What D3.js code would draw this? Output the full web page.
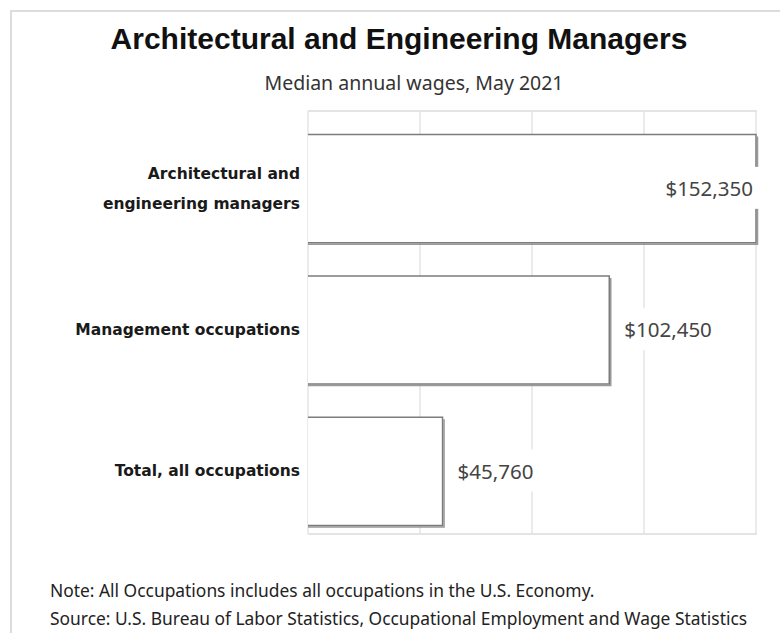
<!DOCTYPE html>
<html>
<head>
<meta charset="utf-8">
<script src="https://cdn.jsdelivr.net/npm/d3@7"></script>
<style>
  body { margin: 0; background: #fff; }
  svg { display: block; }
</style>
</head>
<body>
<svg id="chart"></svg>
<script>
// chart values
var categories = ["Architectural and engineering managers", "Management occupations", "Total, all occupations"];
var labelLines = [["Architectural and", "engineering managers"], ["Management occupations"], ["Total, all occupations"]];
var wages = [152350, 102450, 45760];
var valueLabels = ["$152,350", "$102,450", "$45,760"];
var notes = ["Note: All Occupations includes all occupations in the U.S. Economy.",
             "Source: U.S. Bureau of Labor Statistics, Occupational Employment and Wage Statistics"];

var width = 780, height = 633;
var svg = d3.select("svg#chart")
    .attr("width", width)
    .attr("height", height);

// outer frame (cropped on right / bottom)
svg.append("path")
    .attr("d", "M11,640 L11,11 L790,11")
    .attr("fill", "none")
    .attr("stroke", "#dcdcdc")
    .attr("stroke-width", 2);

// title + subtitle
svg.append("text")
    .attr("x", 399).attr("y", 49)
    .attr("text-anchor", "middle")
    .attr("font-family", "Liberation Sans, Arial, sans-serif")
    .attr("font-weight", "bold")
    .attr("font-size", 30)
    .attr("fill", "#111")
    .text("Architectural and Engineering Managers");

svg.append("text")
    .attr("x", 414).attr("y", 90)
    .attr("text-anchor", "middle")
    .attr("font-family", "Noto Sans, sans-serif")
    .attr("font-size", 19.5)
    .attr("fill", "#333")
    .text("Median annual wages, May 2021");

// plot area
var plot = {left: 308, right: 757, top: 111, bottom: 534};

var x = d3.scaleLinear()
    .domain([0, d3.max(wages)])
    .range([plot.left, plot.right - 1]);

var y = d3.scaleBand()
    .domain(categories)
    .range([plot.top + 7, plot.bottom + 8])
    .paddingInner(0.235)
    .paddingOuter(0.1175);

// gridlines at quarters of the axis
var gridTicks = d3.range(0, 5).map(function(i) { return d3.max(wages) * i / 4; });
svg.append("g")
    .selectAll("line")
    .data(gridTicks)
    .enter()
    .append("line")
    .attr("x1", function(d) { return x(d); })
    .attr("x2", function(d) { return x(d); })
    .attr("y1", plot.top)
    .attr("y2", plot.bottom)
    .attr("stroke", "#ebebeb")
    .attr("stroke-width", 2);

// frame top / bottom
svg.append("line")
    .attr("x1", plot.left).attr("x2", plot.right)
    .attr("y1", plot.top).attr("y2", plot.top)
    .attr("stroke", "#e4e4e4").attr("stroke-width", 2);
svg.append("line")
    .attr("x1", plot.left).attr("x2", plot.right)
    .attr("y1", plot.bottom).attr("y2", plot.bottom)
    .attr("stroke", "#e4e4e4").attr("stroke-width", 2);

var bars = svg.append("g")
    .selectAll("g")
    .data(categories)
    .enter()
    .append("g");

bars.append("rect")
    .attr("x", x(0))
    .attr("y", function(d) { return y(d); })
    .attr("width", function(d, i) { return x(wages[i]) - x(0); })
    .attr("height", y.bandwidth())
    .attr("fill", "#fff");

// shadow on right / bottom
bars.append("path")
    .attr("d", function(d, i) {
        var x0 = x(0), x1 = x(wages[i]), y0 = y(d), y1 = y(d) + y.bandwidth();
        return "M" + x0 + "," + (y1 + 1.5) + "H" + (x1 + 1.5) + "V" + (y0 + 2);
    })
    .attr("fill", "none")
    .attr("stroke", "#9a9a9a")
    .attr("stroke-width", 1.5);

// outline, open on the left
bars.append("path")
    .attr("d", function(d, i) {
        var x0 = x(0), x1 = x(wages[i]), y0 = y(d), y1 = y(d) + y.bandwidth();
        return "M" + x0 + "," + y0 + "H" + x1 + "V" + y1 + "H" + x0;
    })
    .attr("fill", "none")
    .attr("stroke", "#7c7c7c")
    .attr("stroke-width", 1.5);

// value labels (inside for the longest bar, outside otherwise)
var valueGroup = bars.append("g")
    .attr("transform", function(d, i) {
        var inside = wages[i] / d3.max(wages) > 0.9;
        var tx = inside ? x(wages[i]) - 3 : x(wages[i]) + 15;
        return "translate(" + tx + "," + (y(d) + y.bandwidth() / 2) + ")";
    });

valueGroup.append("text")
    .attr("text-anchor", function(d, i) { return wages[i] / d3.max(wages) > 0.9 ? "end" : "start"; })
    .attr("dy", "0.35em")
    .attr("font-family", "Noto Sans, sans-serif")
    .attr("font-size", 20.5)
    .attr("fill", "#444")
    .text(function(d, i) { return valueLabels[i]; });

valueGroup.each(function() {
    var g = d3.select(this);
    var bb = g.select("text").node().getBBox();
    g.insert("rect", "text")
        .attr("x", bb.x - 3).attr("y", bb.y - 7)
        .attr("width", bb.width + 9).attr("height", bb.height + 14)
        .attr("fill", "#fff");
});

// category labels
var catLabels = svg.append("g")
    .selectAll("text")
    .data(categories)
    .enter()
    .append("text")
    .attr("text-anchor", "end")
    .attr("font-family", "DejaVu Sans, sans-serif")
    .attr("font-weight", "bold")
    .attr("font-size", 15.5)
    .attr("fill", "#1a1a1a")
    .attr("y", function(d) { return y(d) + y.bandwidth() / 2; });

catLabels.selectAll("tspan")
    .data(function(d, i) {
        var lines = labelLines[i];
        return lines.map(function(l, j) { return {text: l, dy: (j - (lines.length - 1) / 2) * 30}; });
    })
    .enter()
    .append("tspan")
    .attr("x", 300)
    .attr("dy", function(d, j) { return j === 0 ? (d.dy + 5) : 30; })
    .text(function(d) { return d.text; });

// footnotes
svg.append("g")
    .selectAll("text")
    .data(notes)
    .enter()
    .append("text")
    .attr("x", 50)
    .attr("y", function(d, i) { return 597 + i * 28; })
    .attr("font-family", "Noto Sans, sans-serif")
    .attr("font-size", 17.4)
    .attr("fill", "#222")
    .text(function(d) { return d; });
</script>
</body>
</html>
